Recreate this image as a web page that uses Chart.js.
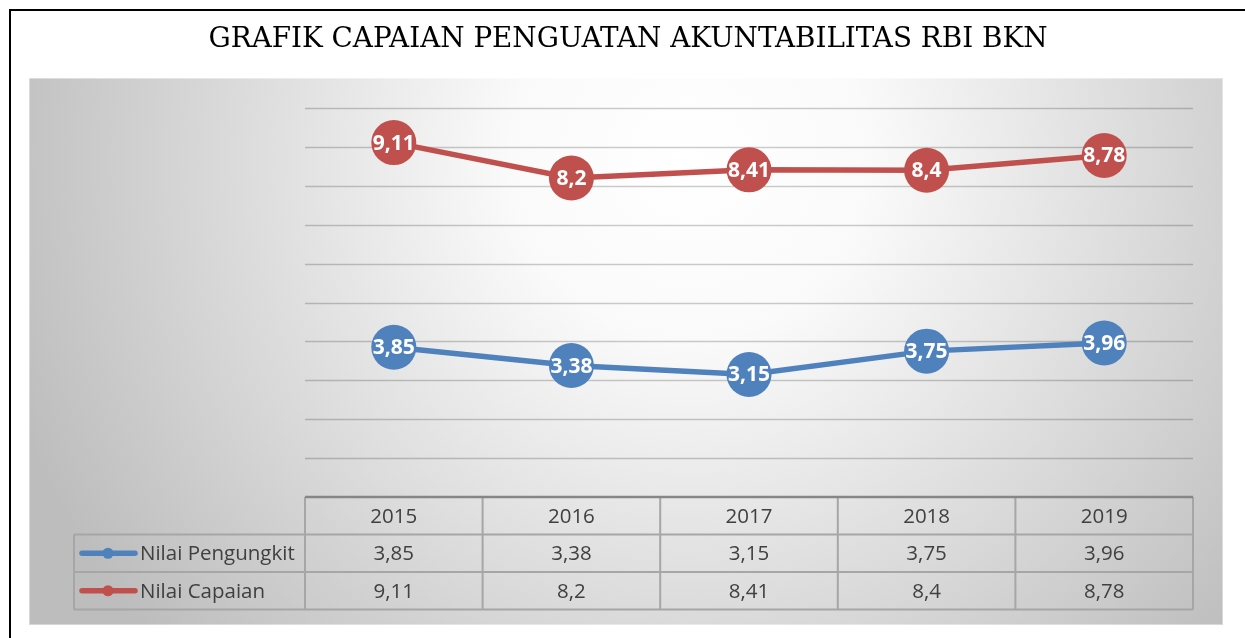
<!DOCTYPE html>
<html>
<head>
<meta charset="utf-8">
<script src="https://cdn.jsdelivr.net/npm/chart.js@4/dist/chart.umd.min.js"></script>
<style>
html,body{margin:0;padding:0;background:#fff;}
#wrap{width:1245px;height:638px;}
</style>
</head>
<body>
<div id="wrap"><canvas id="c" width="1245" height="638"></canvas></div>
<script>
const TITLE = "GRAFIK CAPAIAN PENGUATAN AKUNTABILITAS RBI BKN";
const categories = ["2015", "2016", "2017", "2018", "2019"];
const pengungkit = [3.85, 3.38, 3.15, 3.75, 3.96];
const capaian = [9.11, 8.2, 8.41, 8.4, 8.78];
const seriesNames = ["Nilai Pengungkit", "Nilai Capaian"];
const seriesColors = ["#4f81bd", "#c0504d"];
const yMin = 0, yMax = 10, yStep = 1;

const fmt = v => String(v).replace('.', ',');

const decor = {
  id: 'decor',
  beforeDraw(chart) {
    const ctx = chart.ctx;
    ctx.save();
    ctx.fillStyle = '#fff';
    ctx.fillRect(0, 0, chart.width, chart.height);
    ctx.strokeStyle = '#000';
    ctx.lineWidth = 2;
    ctx.strokeRect(10, 10, 1260, 700);
    ctx.fillStyle = '#000';
    ctx.font = '27.8px "DejaVu Serif"';
    ctx.textAlign = 'center';
    ctx.textBaseline = 'middle';
    ctx.fillText(TITLE, 628, 40);
    const g = ctx.createRadialGradient(690, 160, 0, 690, 160, 720);
    g.addColorStop(0, '#ffffff');
    g.addColorStop(0.25, '#fafafa');
    g.addColorStop(1, '#bdbdbd');
    ctx.fillStyle = g;
    ctx.fillRect(29, 78, 1194, 547);
    ctx.strokeStyle = 'rgba(255,255,255,0.4)';
    ctx.lineWidth = 1;
    ctx.strokeRect(29.5, 78.5, 1193, 546);
    const ys = chart.scales.y, area = chart.chartArea;
    ctx.strokeStyle = 'rgba(0,0,0,0.2)';
    ctx.lineWidth = 1.5;
    ys.ticks.forEach(t => {
      if (t.value === yMin) return;
      const py = Math.round(ys.getPixelForValue(t.value)) + 0.5;
      ctx.beginPath();
      ctx.moveTo(area.left, py);
      ctx.lineTo(area.right, py);
      ctx.stroke();
    });
    ctx.restore();
  },
  afterDatasetsDraw(chart) {
    const ctx = chart.ctx;
    ctx.save();
    ctx.fillStyle = '#fff';
    ctx.font = 'bold 21px "Open Sans"';
    ctx.textAlign = 'center';
    ctx.textBaseline = 'middle';
    chart.data.datasets.forEach((ds, i) => {
      chart.getDatasetMeta(i).data.forEach((pt, j) => {
        ctx.fillText(fmt(ds.data[j]), pt.x, pt.y + 1);
      });
    });
    ctx.restore();
  },
  afterDraw(chart) {
    const ctx = chart.ctx;
    const xs = chart.scales.x, area = chart.chartArea;
    const rowH = 37.5;
    const top = area.bottom;
    const labelLeft = 74;
    const n = categories.length;
    const colW = (area.right - area.left) / n;
    ctx.save();
    ctx.strokeStyle = '#a6a6a6';
    ctx.lineWidth = 2;
    ctx.beginPath();
    ctx.moveTo(labelLeft, top + rowH); ctx.lineTo(area.right, top + rowH);
    ctx.moveTo(labelLeft, top + 2 * rowH); ctx.lineTo(area.right, top + 2 * rowH);
    ctx.moveTo(labelLeft, top + 3 * rowH); ctx.lineTo(area.right, top + 3 * rowH);
    ctx.moveTo(labelLeft, top + rowH); ctx.lineTo(labelLeft, top + 3 * rowH);
    for (let i = 0; i <= n; i++) {
      const px = area.left + i * colW;
      ctx.moveTo(px, top); ctx.lineTo(px, top + 3 * rowH);
    }
    ctx.stroke();
    ctx.strokeStyle = '#868686';
    ctx.lineWidth = 2.5;
    ctx.beginPath();
    ctx.moveTo(area.left, top); ctx.lineTo(area.right, top);
    ctx.stroke();
    ctx.fillStyle = '#404040';
    ctx.font = '20.5px "Open Sans"';
    ctx.textAlign = 'center';
    ctx.textBaseline = 'middle';
    categories.forEach((c, i) => {
      const px = xs.getPixelForValue(i);
      ctx.fillText(c, px, top + rowH * 0.5 + 1);
      chart.data.datasets.forEach((ds, k) => {
        ctx.fillText(fmt(ds.data[i]), px, top + rowH * (1.5 + k) + 1);
      });
    });
    ctx.textAlign = 'left';
    seriesNames.forEach((name, k) => {
      const cy = top + rowH * (1.5 + k);
      ctx.strokeStyle = seriesColors[k];
      ctx.lineWidth = 5.5;
      ctx.lineCap = 'round';
      ctx.beginPath();
      ctx.moveTo(82, cy); ctx.lineTo(135, cy);
      ctx.stroke();
      ctx.fillStyle = seriesColors[k];
      ctx.beginPath();
      ctx.arc(108, cy, 5.5, 0, Math.PI * 2);
      ctx.fill();
      ctx.fillStyle = '#404040';
      ctx.fillText(name, 140, cy + 1);
    });
    ctx.restore();
  }
};

new Chart(document.getElementById('c'), {
  type: 'line',
  data: {
    labels: categories,
    datasets: [
      { label: seriesNames[0], data: pengungkit, borderColor: seriesColors[0], backgroundColor: seriesColors[0],
        borderWidth: 5.5, pointRadius: 22.5, pointBorderWidth: 0, pointHoverRadius: 22.5, tension: 0 },
      { label: seriesNames[1], data: capaian, borderColor: seriesColors[1], backgroundColor: seriesColors[1],
        borderWidth: 5.5, pointRadius: 22.5, pointBorderWidth: 0, pointHoverRadius: 22.5, tension: 0 }
    ]
  },
  options: {
    responsive: false,
    animation: false,
    events: [],
    layout: { padding: { left: 305, right: 52, top: 108, bottom: 141 } },
    plugins: { legend: { display: false }, title: { display: false }, tooltip: { enabled: false } },
    scales: {
      x: { type: 'category', display: false, offset: true },
      y: { display: false, min: yMin, max: yMax, ticks: { stepSize: yStep } }
    }
  },
  plugins: [decor]
});
</script>
</body>
</html>
